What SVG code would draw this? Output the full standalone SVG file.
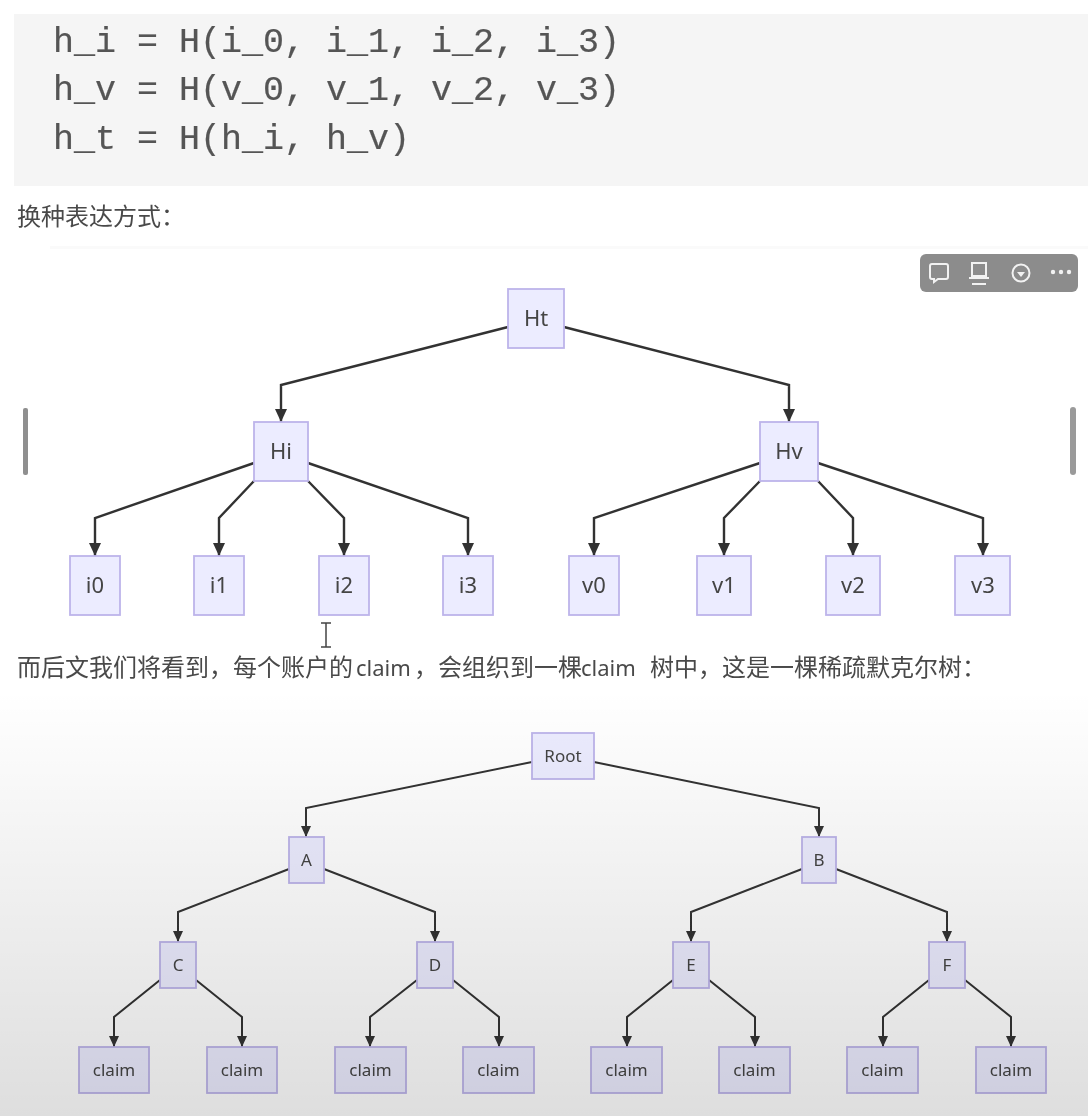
<svg xmlns="http://www.w3.org/2000/svg" width="1088" height="1116" viewBox="0 0 1088 1116">
<defs>
<linearGradient id="shade" x1="0" y1="0" x2="0" y2="1"><stop offset="0" stop-color="#000" stop-opacity="0"/><stop offset="1" stop-color="#000" stop-opacity="0.13"/></linearGradient>
<marker id="arrow" markerUnits="userSpaceOnUse" markerWidth="14" markerHeight="14" refX="13" refY="7" orient="auto"><path d="M0 1L13 7L0 13z" fill="#333"/></marker>
<marker id="arrow2" markerUnits="userSpaceOnUse" markerWidth="12" markerHeight="12" refX="11" refY="6" orient="auto"><path d="M0 1L11 6L0 11z" fill="#333"/></marker>
<filter id="soft" x="0" y="0" width="100%" height="100%"><feGaussianBlur stdDeviation="0.6"/></filter>
<style>
.code{font-family:"Liberation Mono","DejaVu Sans Mono",monospace;font-size:35px;fill:#555;stroke:#555;stroke-width:0.2}
.para{font-family:"Noto Sans CJK SC","Noto Sans",sans-serif;font-size:24px;fill:#4a4a4a}
.lat{font-family:"Noto Sans",sans-serif;font-size:22px}
.box{fill:#ECECFF;stroke:#BDB4EA;stroke-width:1.8}
.lab{font-family:"Noto Sans",sans-serif;fill:#444;text-anchor:middle}
.l1{font-size:22px}
.l2{font-size:17px}
.edge{fill:none;stroke:#333;stroke-width:2.4;marker-end:url(#arrow)}
.edge2{fill:none;stroke:#333;stroke-width:2;marker-end:url(#arrow2)}
.ico{fill:none;stroke:#f2f2f2;stroke-width:2}
</style>
</defs>
<g filter="url(#soft)">
<rect width="1088" height="1116" fill="#fff"/>
<rect x="14" y="14" width="1074" height="172" fill="#f5f5f5"/>
<rect x="50" y="246" width="1038" height="3" fill="#fafafa"/>
<text class="code" x="53" y="52">h_i = H(i_0, i_1, i_2, i_3)</text>
<text class="code" x="53" y="100">h_v = H(v_0, v_1, v_2, v_3)</text>
<text class="code" x="53" y="149">h_t = H(h_i, h_v)</text>
<text class="para" x="17" y="225">换种表达方式&#xFF1A;</text>
<text class="para" y="676"><tspan x="17">而后文我们将看到&#xFF0C;每个账户的</tspan><tspan class="lat" x="356">claim</tspan><tspan x="414">&#xFF0C;会组织到一棵</tspan><tspan class="lat" x="581">claim </tspan><tspan x="650">树中&#xFF0C;这是一棵稀疏默克尔树&#xFF1A;</tspan></text>

<g id="toolbar">
<rect x="920" y="254" width="158" height="38" rx="6" fill="#8c8c8c"/>
<path class="ico" d="M932 264h14a2 2 0 0 1 2 2v11a2 2 0 0 1-2 2h-8l-4 3v-3h-2a2 2 0 0 1-2-2v-11a2 2 0 0 1 2-2z"/>
<path class="ico" d="M972 263h14v13h-14zM969 278h20M972 284h14"/>
<circle class="ico" cx="1021" cy="273" r="8.500"/>
<path d="M1017 272h8l-4 5z" fill="#f2f2f2"/>
<circle cx="1053" cy="272" r="2.200" fill="#f2f2f2"/><circle cx="1061" cy="272" r="2.200" fill="#f2f2f2"/><circle cx="1069" cy="272" r="2.200" fill="#f2f2f2"/>
</g>
<rect id="scroll-left" x="23" y="408" width="5" height="67" rx="2" fill="#8f8f8f"/>
<rect id="scroll-right" x="1070" y="407" width="6" height="68" rx="3" fill="#9a9a9a"/>
<path id="text-cursor" d="M321 623h10M326 623v24M321 647h10" fill="none" stroke="#444" stroke-width="1.500"/>

<g id="connectors">
<path class="edge" d="M508 327L281 385V422"/>
<path class="edge" d="M564 327L789 385V422"/>
<path class="edge" d="M254 463L95 518V556"/>
<path class="edge" d="M254 481L219 518V556"/>
<path class="edge" d="M308 481L344 518V556"/>
<path class="edge" d="M308 463L468 518V556"/>
<path class="edge" d="M760 463L594 518V556"/>
<path class="edge" d="M760 481L724 518V556"/>
<path class="edge" d="M818 481L853 518V556"/>
<path class="edge" d="M818 463L983 518V556"/>
<path class="edge2" d="M532 762L306 808V837"/>
<path class="edge2" d="M594 762L819 808V837"/>
<path class="edge2" d="M289 869L178 912V942"/>
<path class="edge2" d="M324 869L435 912V942"/>
<path class="edge2" d="M802 869L691 912V942"/>
<path class="edge2" d="M836 869L947 912V942"/>
<path class="edge2" d="M160 980L114 1017V1047"/>
<path class="edge2" d="M196 980L242 1017V1047"/>
<path class="edge2" d="M417 980L370 1017V1047"/>
<path class="edge2" d="M453 980L499 1017V1047"/>
<path class="edge2" d="M673 980L627 1017V1047"/>
<path class="edge2" d="M709 980L755 1017V1047"/>
<path class="edge2" d="M929 980L883 1017V1047"/>
<path class="edge2" d="M965 980L1011 1017V1047"/>
</g>

<g id="Ht"><rect class="box" x="508" y="289" width="56" height="59"/><text class="lab l1" x="536" y="326">Ht</text></g>
<g id="Hi"><rect class="box" x="254" y="422" width="54" height="59"/><text class="lab l1" x="281" y="459">Hi</text></g>
<g id="Hv"><rect class="box" x="760" y="422" width="58" height="59"/><text class="lab l1" x="789" y="459">Hv</text></g>
<g id="i0"><rect class="box" x="70" y="556" width="50" height="59"/><text class="lab l1" x="95" y="593">i0</text></g>
<g id="i1"><rect class="box" x="194" y="556" width="50" height="59"/><text class="lab l1" x="219" y="593">i1</text></g>
<g id="i2"><rect class="box" x="319" y="556" width="50" height="59"/><text class="lab l1" x="344" y="593">i2</text></g>
<g id="i3"><rect class="box" x="443" y="556" width="50" height="59"/><text class="lab l1" x="468" y="593">i3</text></g>
<g id="v0"><rect class="box" x="569" y="556" width="50" height="59"/><text class="lab l1" x="594" y="593">v0</text></g>
<g id="v1"><rect class="box" x="697" y="556" width="54" height="59"/><text class="lab l1" x="724" y="593">v1</text></g>
<g id="v2"><rect class="box" x="826" y="556" width="54" height="59"/><text class="lab l1" x="853" y="593">v2</text></g>
<g id="v3"><rect class="box" x="955" y="556" width="55" height="59"/><text class="lab l1" x="983" y="593">v3</text></g>

<g id="Root"><rect class="box" x="532" y="733" width="62" height="46"/><text class="lab l2" x="563" y="762">Root</text></g>
<g id="A"><rect class="box" x="289" y="837" width="35" height="46"/><text class="lab l2" x="306.500" y="866">A</text></g>
<g id="B"><rect class="box" x="802" y="837" width="34" height="46"/><text class="lab l2" x="819" y="866">B</text></g>
<g id="C"><rect class="box" x="160" y="942" width="36" height="46"/><text class="lab l2" x="178" y="971">C</text></g>
<g id="D"><rect class="box" x="417" y="942" width="36" height="46"/><text class="lab l2" x="435" y="971">D</text></g>
<g id="E"><rect class="box" x="673" y="942" width="36" height="46"/><text class="lab l2" x="691" y="971">E</text></g>
<g id="F"><rect class="box" x="929" y="942" width="36" height="46"/><text class="lab l2" x="947" y="971">F</text></g>
<g id="claim1"><rect class="box" x="79" y="1047" width="70" height="46"/><text class="lab l2" x="114" y="1076">claim</text></g>
<g id="claim2"><rect class="box" x="207" y="1047" width="70" height="46"/><text class="lab l2" x="242" y="1076">claim</text></g>
<g id="claim3"><rect class="box" x="335" y="1047" width="71" height="46"/><text class="lab l2" x="370.500" y="1076">claim</text></g>
<g id="claim4"><rect class="box" x="463" y="1047" width="71" height="46"/><text class="lab l2" x="498.500" y="1076">claim</text></g>
<g id="claim5"><rect class="box" x="591" y="1047" width="71" height="46"/><text class="lab l2" x="626.500" y="1076">claim</text></g>
<g id="claim6"><rect class="box" x="719" y="1047" width="71" height="46"/><text class="lab l2" x="754.500" y="1076">claim</text></g>
<g id="claim7"><rect class="box" x="847" y="1047" width="71" height="46"/><text class="lab l2" x="882.500" y="1076">claim</text></g>
<g id="claim8"><rect class="box" x="976" y="1047" width="70" height="46"/><text class="lab l2" x="1011" y="1076">claim</text></g>

<rect id="shade-overlay" x="0" y="690" width="1088" height="426" fill="url(#shade)"/>
</g>
</svg>
